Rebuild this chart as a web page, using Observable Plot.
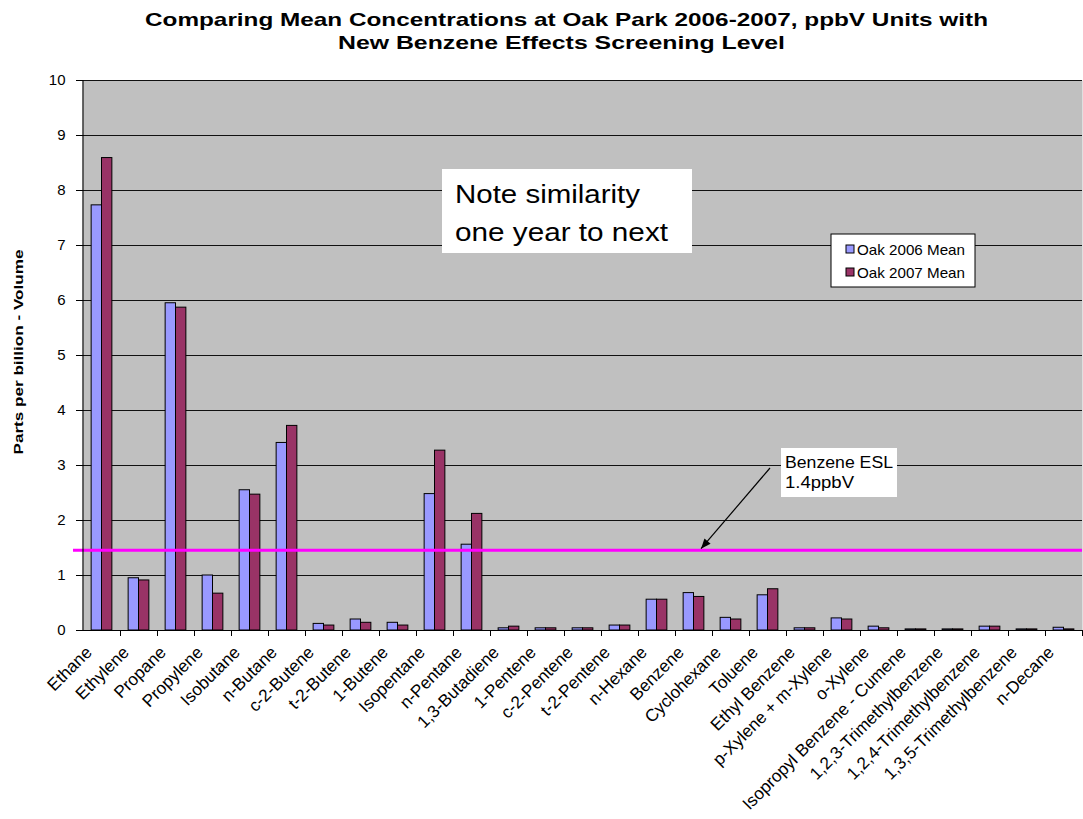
<!DOCTYPE html>
<html><head><meta charset="utf-8">
<script src="https://cdn.jsdelivr.net/npm/d3@7"></script>
<script src="https://cdn.jsdelivr.net/npm/@observablehq/plot@0.6"></script>
<style>
body{margin:0;background:#fff;}
svg{display:block;}
</style>
</head><body><div id="chart"></div>
<script>
const categories = ["Ethane","Ethylene","Propane","Propylene","Isobutane","n-Butane","c-2-Butene","t-2-Butene","1-Butene","Isopentane","n-Pentane","1,3-Butadiene","1-Pentene","c-2-Pentene","t-2-Pentene","n-Hexane","Benzene","Cyclohexane","Toluene","Ethyl Benzene","p-Xylene + m-Xylene","o-Xylene","Isopropyl Benzene - Cumene","1,2,3-Trimethylbenzene","1,2,4-Trimethylbenzene","1,3,5-Trimethylbenzene","n-Decane"];
const mean2006 = [7.73,0.95,5.95,1.00,2.55,3.41,0.12,0.20,0.14,2.48,1.56,0.04,0.04,0.04,0.09,0.56,0.68,0.23,0.64,0.04,0.22,0.07,0.02,0.02,0.07,0.02,0.05];
const mean2007 = [8.59,0.91,5.87,0.67,2.47,3.72,0.09,0.14,0.09,3.27,2.12,0.07,0.04,0.04,0.09,0.56,0.61,0.20,0.75,0.04,0.20,0.04,0.02,0.02,0.07,0.02,0.02];
const seriesNames = ["Oak 2006 Mean","Oak 2007 Mean"];
const seriesColors = ["#9999FF","#993366"];
const yTicks = [0,1,2,3,4,5,6,7,8,9,10];
const eslValue = 1.46;
const titleLines = ["Comparing Mean Concentrations at Oak Park 2006-2007, ppbV Units with","New Benzene Effects Screening Level"];
const yLabel = "Parts per billion - Volume";
const noteLines = ["Note similarity","one year to next"];
const eslLabelLines = ["Benzene ESL","1.4ppbV"];

const W = 1083, H = 819, mL = 83, mR = 1, mT = 80, mB = 189;
const step = (W - mL - mR) / categories.length;
const font = "'Liberation Sans', Arial, sans-serif";

const rows = categories.map((c, i) => ({category: c, v2006: mean2006[i], v2007: mean2007[i]}));

const chart = Plot.plot({
  width: W, height: H,
  marginLeft: mL, marginRight: mR, marginTop: mT, marginBottom: mB,
  style: {background: "white", fontFamily: font, fontSize: "15px", color: "#000"},
  x: {domain: categories, padding: 0, label: null, axis: null},
  y: {domain: [0, 10], label: null, axis: null},
  marks: [
    Plot.frame({fill: "#C0C0C0", stroke: null}),
    Plot.gridY(yTicks, {stroke: "#111", strokeOpacity: 1, strokeWidth: 1}),
    Plot.barY(rows, {x: "category", y: "v2006", fill: seriesColors[0], stroke: "#000", strokeWidth: 1,
      insetLeft: 0.22 * step, insetRight: 0.5 * step}),
    Plot.barY(rows, {x: "category", y: "v2007", fill: seriesColors[1], stroke: "#000", strokeWidth: 1,
      insetLeft: 0.5 * step, insetRight: 0.22 * step}),
    Plot.ruleY([eslValue], {stroke: "#FF00FF", strokeWidth: 3, insetLeft: -10}),
    Plot.ruleY([0], {stroke: "#000", strokeWidth: 1.2}),
    Plot.axisY(yTicks, {tickSize: 7, tickPadding: 11, tickFormat: d => String(d), label: null}),
    Plot.axisX({tickSize: 6, tickFormat: () => "", dx: step / 2, label: null}),
    Plot.axisX({tickSize: 0, tickRotate: -45, tickPadding: 19, dx: -13, label: null})
  ]
});
document.getElementById("chart").appendChild(chart);

const svg = d3.select(chart);
const ys = chart.scale("y");
svg.selectAll('g[aria-label="x-axis tick label"]').attr("font-size", 17.2);
svg.selectAll('g[aria-label="y-axis tick label"]').attr("font-size", 15);

// left axis line
svg.append("line").attr("x1", mL).attr("x2", mL).attr("y1", ys.apply(10)).attr("y2", ys.apply(0))
  .attr("stroke", "#000").attr("stroke-width", 1.2);

// title
const t = svg.append("g").attr("font-family", font).attr("font-weight", "bold").attr("font-size", 19)
  .attr("fill", "#000").attr("text-anchor", "start");
t.append("text").attr("x", 145).attr("y", 26).attr("textLength", 843).attr("lengthAdjust", "spacingAndGlyphs").text(titleLines[0]);
t.append("text").attr("x", 338).attr("y", 49).attr("textLength", 447).attr("lengthAdjust", "spacingAndGlyphs").text(titleLines[1]);

// y label
svg.append("text").attr("transform", "translate(23,352) rotate(-90)").attr("text-anchor", "middle")
  .attr("font-family", font).attr("font-weight", "bold").attr("font-size", 13)
  .attr("textLength", 205).attr("lengthAdjust", "spacingAndGlyphs").text(yLabel);

// note box
const nb = svg.append("g").attr("font-family", font).attr("text-anchor", "start").attr("font-size", 25);
nb.append("rect").attr("x", 442).attr("y", 169).attr("width", 250).attr("height", 84).attr("fill", "#fff");
nb.append("text").attr("x", 455).attr("y", 203).attr("textLength", 185).attr("lengthAdjust", "spacingAndGlyphs").text(noteLines[0]);
nb.append("text").attr("x", 455).attr("y", 241).attr("textLength", 213).attr("lengthAdjust", "spacingAndGlyphs").text(noteLines[1]);

// legend
const lg = svg.append("g").attr("font-family", font).attr("font-size", 15).attr("text-anchor", "start");
lg.append("rect").attr("x", 831).attr("y", 234).attr("width", 144).attr("height", 53).attr("fill", "#fff").attr("stroke", "#000");
seriesNames.forEach((n, i) => {
  lg.append("rect").attr("x", 846).attr("y", 245 + i * 23).attr("width", 8).attr("height", 8)
    .attr("fill", seriesColors[i]).attr("stroke", "#000");
  lg.append("text").attr("x", 857).attr("y", 255 + i * 23).attr("textLength", 108).attr("lengthAdjust", "spacingAndGlyphs").text(n);
});

// ESL annotation
const ea = svg.append("g").attr("font-family", font).attr("font-size", 16).attr("text-anchor", "start");
ea.append("rect").attr("x", 781).attr("y", 448).attr("width", 116).attr("height", 49).attr("fill", "#fff");
ea.append("text").attr("x", 785).attr("y", 468).attr("textLength", 108).attr("lengthAdjust", "spacingAndGlyphs").text(eslLabelLines[0]);
ea.append("text").attr("x", 785).attr("y", 488).attr("textLength", 69).attr("lengthAdjust", "spacingAndGlyphs").text(eslLabelLines[1]);
const ax1 = 770, ay1 = 468, ax2 = 701, ay2 = ys.apply(eslValue) - 1;
ea.append("line").attr("x1", ax1).attr("y1", ay1).attr("x2", ax2).attr("y2", ay2).attr("stroke", "#000").attr("stroke-width", 1.2);
const ang = Math.atan2(ay2 - ay1, ax2 - ax1), L = 10, Wd = 4;
const bx = ax2 - L * Math.cos(ang), by = ay2 - L * Math.sin(ang);
ea.append("polygon").attr("points", [
  [ax2, ay2],
  [bx + Wd * Math.sin(ang), by - Wd * Math.cos(ang)],
  [bx - Wd * Math.sin(ang), by + Wd * Math.cos(ang)]
].map(p => p.join(",")).join(" ")).attr("fill", "#000");
</script>
</body></html>
